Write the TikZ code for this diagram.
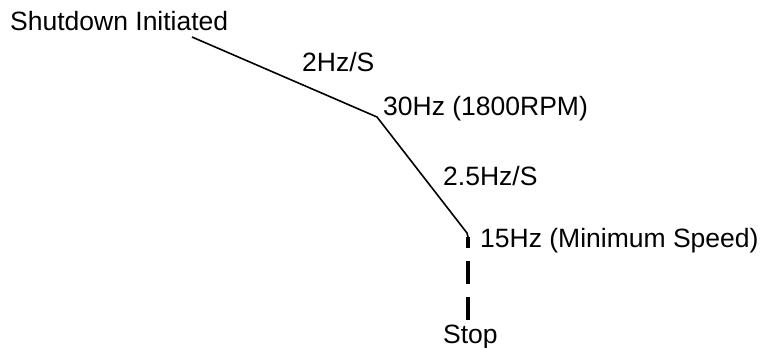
\documentclass[tikz,border=0pt]{standalone}
\usepackage{fontspec}
\setmainfont{Liberation Sans}
\begin{document}
\begin{tikzpicture}[x=1pt,y=-1pt,
  lbl/.style={anchor=base west,inner sep=0pt,font=\fontsize{26.5}{30}\selectfont},
  ramp/.style={line width=1.6pt},
  stopline/.style={line width=3.4pt,dash pattern=on 23pt off 13pt}]
\useasboundingbox (0,0) rectangle (763,348);
\node[lbl] (start) at (10,30) {Shutdown Initiated};
\node[lbl] (r1) at (302,71) {2Hz/S};
\node[lbl] (mid) at (383,115) {30Hz (1800RPM)};
\node[lbl] (r2) at (443,185) {2.5Hz/S};
\node[lbl] (min) at (480,247) {15Hz (Minimum Speed)};
\node[lbl] (stop) at (443,343) {Stop};
\coordinate (p0) at (192,37);
\coordinate (p1) at (377,117);
\coordinate (p2) at (467,233);
\coordinate (p3) at (468,237);
\coordinate (p4) at (468,320);
\draw[ramp] (p0) -- (p1) -- (p2) -- (p3);
\draw[stopline] (p4) -- (p3);
\end{tikzpicture}
\end{document}
